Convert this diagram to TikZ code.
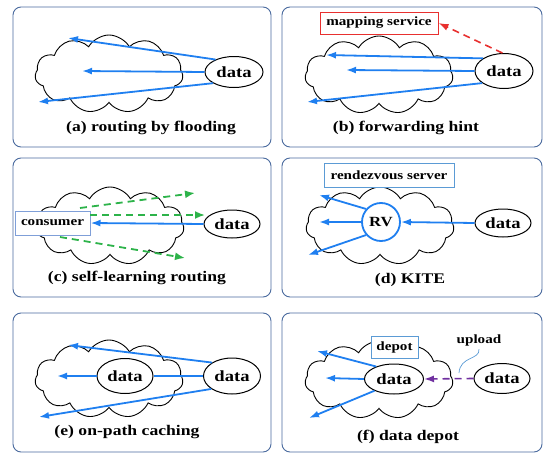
\documentclass[tikz,border=0pt]{standalone}
\usepackage{fontspec}
\setmainfont{Liberation Serif}[FakeStretch=1.2]
\usetikzlibrary{shapes.symbols,shapes.geometric,arrows.meta}
\definecolor{frame}{HTML}{4A6A9E}
\definecolor{arrblue}{HTML}{1F7FF0}
\definecolor{grn}{HTML}{2DB34A}
\definecolor{rd}{HTML}{E8302F}
\definecolor{purp}{HTML}{7030A0}
\definecolor{boxblue}{HTML}{5B9BD5}
\definecolor{consblue}{HTML}{7F9FD8}
\tikzset{
  panel/.style={draw=frame, line width=0.9pt, rounded corners=8pt},
  netcloud/.style={cloud, cloud puffs=11, cloud puff arc=120, aspect=1.9, draw, line width=0.9pt, minimum width=148pt, minimum height=78pt, inner sep=0pt},
  dataell/.style={ellipse, draw, line width=1pt, fill=white, minimum width=58pt, minimum height=31pt, inner sep=0pt, font=\fontsize{15.5}{16}\selectfont\bfseries},
  capt/.style={font=\fontsize{14.7}{16}\selectfont\bfseries},
  tag/.style={draw, fill=white, line width=1pt, minimum height=22pt, inner sep=3pt, font=\fontsize{12.6}{14}\selectfont\bfseries},
  flow/.style={draw=arrblue, line width=1.8pt, -{Latex[length=10pt,width=7pt]}},
  gflow/.style={draw=grn, line width=1.8pt, dash pattern=on 7pt off 5pt, -{Latex[length=10pt,width=8pt]}},
}
\begin{document}
\begin{tikzpicture}[x=1pt,y=-1pt]
\useasboundingbox (0,0) rectangle (544,455);
% ---------- panels
\draw[panel] (13,7) rectangle (271,147);
\draw[panel] (282,7) rectangle (542,147);
\draw[panel] (13,158) rectangle (271,297);
\draw[panel] (282,158) rectangle (542,297);
\draw[panel] (13,313) rectangle (271,452);
\draw[panel] (282,313) rectangle (542,452);

% ---------- (a)
\node[netcloud] (ca) at (109,74) {};
\node[dataell] (da) at (234,72) {data};
\coordinate (a1) at (68,38);
\coordinate (a2) at (82,71);
\coordinate (a3) at (38,102);
\draw[flow] (da.146) -- (a1);
\draw[flow] (da.west) -- (a2);
\draw[flow] (da.208) -- (a3);
\node[capt] (capa) at (151,128) {(a) routing by flooding};

% ---------- (b)
\node[netcloud] (cb) at (379,75) {};
\node[dataell, minimum height=35pt] (db) at (504,71) {data};
\node[tag, draw=rd, minimum width=118pt] (ms) at (379,23) {mapping service};
\coordinate (b1) at (326,55);
\coordinate (b2) at (346,70);
\coordinate (b3) at (307,102);
\draw[flow] (db.149) -- (b1);
\draw[flow] (db.west) -- (b2);
\draw[flow] (db.209) -- (b3);
\draw[draw=rd, line width=1.6pt, dash pattern=on 7pt off 5pt, -{Latex[length=10pt,width=7pt]}] (db.95) -- (ms.east);
\node[capt] (capb) at (406,128) {(b) forwarding hint};

% ---------- (c)
\node[netcloud] (cc) at (110,226) {};
\node[dataell, minimum width=56pt, minimum height=28pt] (dc) at (232,224) {data};
\node[tag, draw=consblue, minimum width=75pt, minimum height=24pt] (cons) at (52.5,223) {consumer};
\coordinate (g1s) at (80,208);
\coordinate (g1e) at (195,193);
\coordinate (g2s) at (90,215);
\coordinate (g2e) at (205,215);
\coordinate (g3s) at (60,237);
\coordinate (g3e) at (185,258);
\draw[gflow] (g1s) -- (g1e);
\draw[gflow] (g2s) -- (g2e);
\draw[gflow] (g3s) -- (g3e);
\draw[flow] (dc.west) -- (cons.east);
\node[capt] (capc) at (137,278) {(c) self-learning routing};

% ---------- (d)
\node[netcloud] (cd) at (380,226) {};
\node[tag, draw=boxblue, minimum width=130pt, minimum height=24pt] (rs) at (389,175) {rendezvous server};
\node[circle, draw=arrblue, line width=1.8pt, fill=white, minimum size=38pt, inner sep=0pt, font=\fontsize{14}{16}\selectfont\bfseries] (rv) at (381,222) {RV};
\node[dataell, minimum width=56pt, minimum height=28pt] (dd) at (503,223) {data};
\coordinate (d1) at (319,195);
\coordinate (d2) at (319,222);
\coordinate (d3) at (308,255);
\draw[flow] (dd.west) -- (rv.east);
\draw[flow] (rv.139) -- (d1);
\draw[flow] (rv.west) -- (d2);
\draw[flow] (rv.221) -- (d3);
\node[capt] (capd) at (410,280) {(d) KITE};

% ---------- (e)
\node[netcloud] (ce) at (109,379) {};
\node[dataell, minimum width=56pt, minimum height=35pt] (de1) at (125,376) {data};
\node[dataell, minimum width=57pt, minimum height=36pt] (de2) at (232,376) {data};
\coordinate (e1) at (68,345);
\coordinate (e2) at (57,376);
\coordinate (e3) at (39,417);
\draw[flow] (de2.146) -- (e1);
\draw[draw=arrblue, line width=1.8pt] (de2.west) -- (de1.east);
\draw[flow] (de1.west) -- (e2);
\draw[flow] (de2.212) -- (e3);
\node[capt] (cape) at (127,432) {(e) on-path caching};

% ---------- (f)
\node[netcloud] (cf) at (379,380) {};
\node[tag, draw=boxblue, minimum width=47pt, minimum height=22pt] (dep) at (394.5,347) {depot};
\node[dataell, minimum width=59pt, minimum height=30pt] (df1) at (394,379) {data};
\node[dataell, minimum width=56pt, minimum height=30pt] (df2) at (502,378.5) {data};
\coordinate (f1) at (317,351);
\coordinate (f2) at (325,378);
\coordinate (f3) at (309,418);
\draw[flow] (df1.145) -- (f1);
\draw[flow] (df1.west) -- (f2);
\draw[flow] (df1.211) -- (f3);
\draw[draw=purp, line width=1.6pt, dash pattern=on 7pt off 5pt, -{Latex[length=10pt,width=7pt]}] (df2.west) -- (df1.east);
\node[font=\fontsize{12.6}{14}\selectfont\bfseries] (upl) at (479,340) {upload};
\coordinate (ule) at (459,373);
\draw[draw=boxblue, line width=0.7pt] (upl.south) .. controls (480,360) and (460,356) .. (ule);
\node[capt] (capf) at (408,437) {(f) data depot};
\end{tikzpicture}
\end{document}
